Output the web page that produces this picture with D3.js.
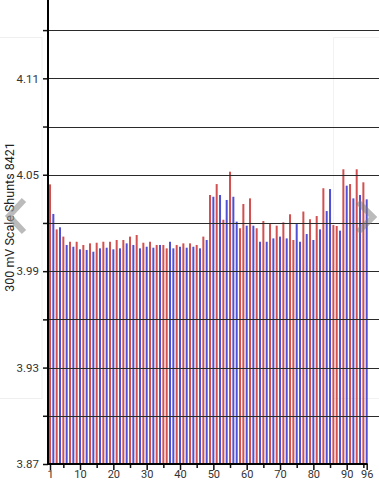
<!DOCTYPE html>
<html><head><meta charset="utf-8">
<script src="https://cdn.jsdelivr.net/npm/d3@7/dist/d3.min.js"></script>
<style>html,body{margin:0;padding:0;background:#fff;overflow:hidden}svg{display:block}</style>
</head><body>
<svg id="c" width="379" height="480"></svg>
<script>
// Cell numbers 1..96
const cells = d3.range(1, 97);
// Cell voltages (V)
const voltages = [
 4.0440,4.0256,4.0160,4.0173,4.0115,4.0063,4.0083,4.0052,4.0083,4.0036,
 4.0063,4.0032,4.0073,4.0021,4.0077,4.0042,4.0083,4.0046,4.0083,4.0036,
 4.0094,4.0042,4.0094,4.0073,4.0115,4.0063,4.0125,4.0042,4.0077,4.0052,
 4.0083,4.0046,4.0063,4.0063,4.0063,4.0042,4.0083,4.0042,4.0063,4.0052,
 4.0073,4.0046,4.0073,4.0052,4.0063,4.0042,4.0115,4.0094,4.0374,4.0363,
 4.0442,4.0374,4.0220,4.0343,4.0519,4.0363,4.0208,4.0167,4.0318,4.0183,
 4.0353,4.0183,4.0167,4.0083,4.0212,4.0083,4.0193,4.0104,4.0183,4.0115,
 4.0204,4.0104,4.0254,4.0094,4.0193,4.0083,4.0271,4.0131,4.0223,4.0094,
 4.0243,4.0160,4.0416,4.0274,4.0411,4.0187,4.0181,4.0152,4.0534,4.0432,
 4.0442,4.0353,4.0534,4.0374,4.0453,4.0347
];
// Series per cell: "R" (red) or "B" (blue)
const series = (
 "RBRBRBRBRB" + "RBRBRBRBRB" + "RBRBRBRBRB" + "RBRBRRBBRB" + "RBRBRBRBRB" +
 "RBRBRBBRRB" + "RBRBRBRBRB" + "RBRRBBRBRB" + "RBRBBRRBRB" + "RBRBRB"
).split("");
const seriesColors = {R: "#d25050", B: "#5050d4"};
const yTickValues = [3.87,3.90,3.93,3.96,3.99,4.02,4.05,4.08,4.11,4.14];
const yTickLabels = ["3.87","","3.93","","3.99","","4.05","","4.11",""];
const xTickValues = [1,5,10,15,20,25,30,35,40,45,50,55,60,65,70,75,80,85,90,95,96];
const xTickLabels = ["1","","10","","20","","30","","40","","50","","60","","70","","80","","90","","96"];
const yTitle = "300 mV Scale Shunts 8421";

const svg = d3.select("#c");
const W = 379, H = 480;
const x = d3.scaleLinear().domain([1, 96]).range([50, 366.7]);
const y = d3.scaleLinear().domain([3.87, 4.17]).range([464, 464 - 0.30 * 1607]);
const bw = 2;

// faint background panels
svg.append("rect").attr("x", -2).attr("y", 37.5).attr("width", 44).attr("height", 361)
  .attr("fill", "none").attr("stroke", "#efefef").attr("stroke-width", 1);
svg.append("rect").attr("x", 333.5).attr("y", 37.5).attr("width", 50).attr("height", 361)
  .attr("fill", "none").attr("stroke", "#f2f2f2").attr("stroke-width", 1);

// bars
svg.append("g").selectAll("rect").data(cells).join("rect")
  .attr("x", d => x(d) - bw / 2)
  .attr("y", (d, i) => y(voltages[i]))
  .attr("width", bw)
  .attr("height", (d, i) => y(3.87) - y(voltages[i]))
  .attr("fill", (d, i) => seriesColors[series[i]]);

// gridlines (on top of bars)
svg.append("g").selectAll("line").data(yTickValues.slice(1)).join("line")
  .attr("x1", 48).attr("x2", W)
  .attr("y1", d => Math.round(y(d)) + 0.5).attr("y2", d => Math.round(y(d)) + 0.5)
  .attr("stroke", "#2a2a2a").attr("stroke-width", 1.2);

// y axis
const yAxis = d3.axisLeft(y).tickValues(yTickValues).tickSize(5)
  .tickFormat((d, i) => yTickLabels[i]);
const gy = svg.append("g").attr("transform", "translate(48,0)").call(yAxis);
gy.select(".domain").remove();
gy.selectAll(".tick line").attr("stroke", "#111").attr("stroke-width", 1.5);
gy.selectAll(".tick text").attr("x", -9).attr("fill", "#333")
  .style("font-family", "Roboto").style("font-size", "11.5px");
svg.append("line").attr("x1", 48).attr("x2", 48).attr("y1", 0).attr("y2", 465)
  .attr("stroke", "#000").attr("stroke-width", 2);

// x axis
const xAxis = d3.axisBottom(x).tickValues(xTickValues).tickSize(4)
  .tickFormat((d, i) => xTickLabels[i]);
const gx = svg.append("g").attr("transform", "translate(0,464)").call(xAxis);
gx.select(".domain").remove();
gx.selectAll(".tick line").attr("stroke", "#111").attr("stroke-width", 1.5)
  .attr("y2", (d, i) => xTickLabels[i] ? 6 : 4);
gx.selectAll(".tick text").attr("y", 6).attr("fill", "#333")
  .style("font-family", "Roboto").style("font-size", "11px");
svg.append("line").attr("x1", 47).attr("x2", 367.5).attr("y1", 464).attr("y2", 464)
  .attr("stroke", "#000").attr("stroke-width", 2);

// y title
svg.append("text").attr("transform", "translate(14,217) rotate(-90)")
  .attr("text-anchor", "middle").attr("fill", "#222")
  .style("font-family", "Roboto").style("font-size", "12.5px").text(yTitle);

// carousel chevrons
svg.append("path").attr("d", "M24,200 L9,216 L24,232")
  .attr("fill", "none").attr("stroke", "rgba(150,150,150,0.65)").attr("stroke-width", 6)
  .attr("stroke-linejoin", "miter");
svg.append("path").attr("d", "M358,202 L373,217 L358,232")
  .attr("fill", "none").attr("stroke", "rgba(120,120,120,0.5)").attr("stroke-width", 6)
  .attr("stroke-linejoin", "miter");
</script>
</body></html>
